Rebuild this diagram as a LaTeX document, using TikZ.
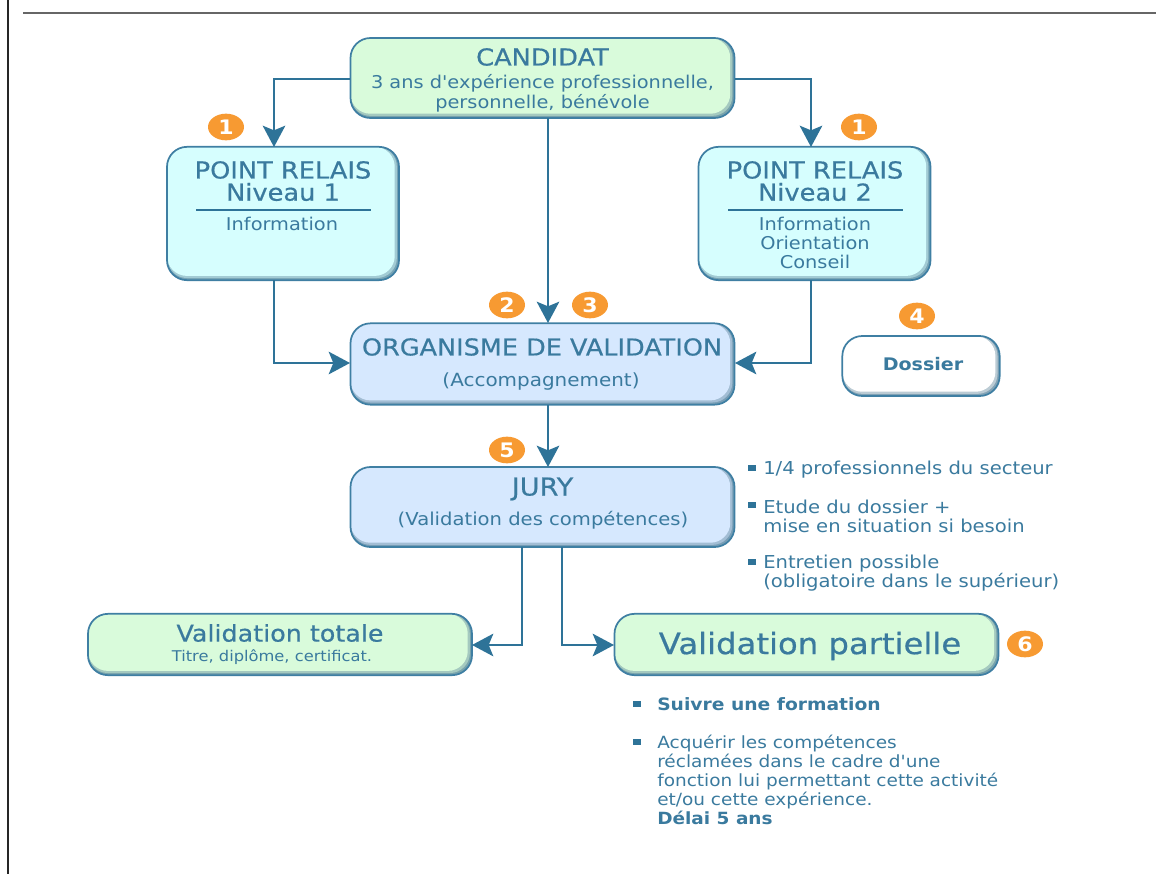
\documentclass[tikz,border=0pt]{standalone}
\usepackage{fontspec}
\setmainfont[FakeStretch=1.1]{DejaVu Sans}
\newfontfamily\bodyf[FakeStretch=1.1]{DejaVu Sans}
\newfontfamily\titlef[FakeStretch=1.1,FakeBold=0.5]{DejaVu Sans}
\usetikzlibrary{arrows.meta,calc,shapes.geometric}
\definecolor{edgec}{HTML}{3F7FA3}
\definecolor{linec}{HTML}{2E7398}
\definecolor{textc}{HTML}{3A7A9E}
\definecolor{greenc}{HTML}{D9FBDB}
\definecolor{cyanc}{HTML}{D6FEFE}
\definecolor{bluec}{HTML}{D6E8FE}
\definecolor{orangec}{HTML}{F79A32}
\newcommand{\fs}[1]{\fontsize{#1}{15}\selectfont}
\newcommand{\fsl}[1]{\fontsize{#1}{14.25}\selectfont}
\tikzset{
  box/.style={draw=edgec,line width=1.3pt,rounded corners=15pt,inner sep=0pt,fill=#1!35!edgec!80!gray,
    path picture={
      \fill[#1!70!edgec!85!gray] (path picture bounding box.south west)++(0,1.6pt) rectangle ($(path picture bounding box.north east)+(-1.6pt,0)$);
      \fill[#1] (path picture bounding box.south west)++(0,3.2pt) rectangle ($(path picture bounding box.north east)+(-3.2pt,0)$);
    }},
  lab/.style={text=textc,align=center,inner sep=0pt},
  ttl/.style={text=textc,align=center,inner sep=0pt,font=\titlef\fs{#1}},
  ll/.style={text=textc,align=left,anchor=west,inner sep=0pt},
  badge/.style={ellipse,fill=orangec,minimum width=27pt,minimum height=20pt,inner sep=0pt,text=white,font=\bfseries\fs{15}},
  arrow/.style={draw=linec,line width=1.3pt,-{Stealth[length=16pt,width=17pt,inset=3.5pt]}},
  bul/.style={fill=linec,minimum width=5.5pt,minimum height=4.5pt,inner sep=0pt},
  rulel/.style={draw=linec,line width=.9pt}
}
\begin{document}
\begin{tikzpicture}[x=.75pt,y=-.75pt]
\useasboundingbox (0,0) rectangle (1156,874);
\coordinate (ta) at (23,13); \coordinate (tb) at (1156,13);
\coordinate (la) at (8,0); \coordinate (lb) at (8,874);
\draw[line width=.9pt,draw=black!60] (ta) -- (tb);
\draw[line width=.9pt,draw=black!85] (la) -- (lb);
% boxes
\node[box=greenc,minimum width=288pt,minimum height=60pt] (cand) at (542.5,78) {};
\node[box=cyanc,minimum width=174pt,minimum height=100pt] (pr1) at (283,213.5) {};
\node[box=cyanc,minimum width=174pt,minimum height=100pt] (pr2) at (814.5,213.5) {};
\node[box=bluec,minimum width=288pt,minimum height=61pt] (org) at (542.5,364) {};
\node[box=white,minimum width=118pt,minimum height=45pt] (dos) at (921,366) {};
\node[box=bluec,minimum width=288pt,minimum height=60pt] (jury) at (542.5,507) {};
\node[box=greenc,minimum width=288pt,minimum height=46pt] (vt) at (280,644.5) {};
\node[box=greenc,minimum width=288pt,minimum height=46pt] (vp) at (806.5,644.5) {};
% connector helpers
\coordinate (c1) at (350,79);
\coordinate (c2) at (735,79);
\coordinate (p1) at (274,147);
\coordinate (p2) at (811,147);
\coordinate (p1b) at (274,280);
\coordinate (p2b) at (811,280);
\coordinate (cs) at (548,118);
\coordinate (on) at (548,323);
\coordinate (os) at (548,405);
\coordinate (jn) at (548,467);
\coordinate (ow) at (350,363);
\coordinate (oe) at (735,363);
\coordinate (j1) at (522,547);
\coordinate (j2) at (562,547);
\coordinate (vte) at (472,645);
\coordinate (vpw) at (614,645);
\draw[arrow] (c1) -| (p1);
\draw[arrow] (c2) -| (p2);
\draw[arrow] (cs) -- (on);
\draw[arrow] (p1b) |- (ow);
\draw[arrow] (p2b) |- (oe);
\draw[arrow] (os) -- (jn);
\draw[arrow] (j1) |- (vte);
\draw[arrow] (j2) |- (vpw);
% box texts
\node[ttl=17.5] (t1) at (542.5,57) {CANDIDAT};
\node[lab,font=\bodyf\fs{13.2}] (t2) at (542.5,93) {3 ans d'expérience professionnelle,\\personnelle, bénévole};
\node[ttl=17.5] (t3) at (283,170) {POINT RELAIS};
\node[ttl=17.5] (t4) at (283,192) {Niveau 1};
\node[lab,font=\fs{13.2}] (t5) at (282,224) {Information};
\node[ttl=17.5] (t6) at (815,170) {POINT RELAIS};
\node[ttl=17.5] (t7) at (815,192) {Niveau 2};
\node[lab,font=\fsl{13.2}] (t8) at (815,243) {Information\\Orientation\\Conseil};
\coordinate (r1a) at (196,210); \coordinate (r1b) at (371,210);
\coordinate (r2a) at (728,210); \coordinate (r2b) at (903,210);
\draw[rulel] (r1a) -- (r1b);
\draw[rulel] (r2a) -- (r2b);
\node[ttl=17.4] (t9) at (542,347) {ORGANISME DE VALIDATION};
\node[lab,font=\fs{13.6}] (t10) at (541,382) {(Accompagnement)};
\node[lab,font=\bfseries\fs{13}] (t11) at (923,364) {Dossier};
\node[ttl=18.5] (t12) at (542.5,489) {JURY};
\node[lab,font=\fs{13.35}] (t13) at (543,520) {(Validation des compétences)};
\node[ttl=17.3] (t14) at (280,633) {Validation totale};
\node[lab,font=\fs{11.1}] (t15) at (272,657) {Titre, diplôme, certificat.};
\node[ttl=22] (t16) at (810,646) {Validation partielle};
% badges
\node[badge] (b1) at (226,127) {1};
\node[badge] (b1b) at (859,127) {1};
\node[badge] (b2) at (507,305) {2};
\node[badge] (b3) at (590,305) {3};
\node[badge] (b4) at (917,316) {4};
\node[badge] (b5) at (507,450) {5};
\node[badge] (b6) at (1025,644) {6};
% side lists
\node[bul] (s1) at (752,468) {};
\node[ll,font=\fsl{13.35}] (l1) at (763,470) {1/4 professionnels du secteur};
\node[bul] (s2) at (752,505) {};
\node[ll,font=\fsl{13.35}] (l2) at (763,516) {Etude du dossier +\\mise en situation si besoin};
\node[bul] (s3) at (752,562) {};
\node[ll,font=\fsl{13.35}] (l3) at (763,573) {Entretien possible\\(obligatoire dans le supérieur)};
\node[bul] (s4) at (637,704) {};
\node[ll,font=\bfseries\fs{12.75}] (l4) at (657,704) {Suivre une formation};
\node[bul] (s5) at (637,742) {};
\node[ll,font=\bodyf\fsl{12.6}] (l5) at (657,772) {Acquérir les compétences\\réclamées dans le cadre d'une\\fonction lui permettant cette activité\\et/ou cette expérience.};
\node[ll,font=\bfseries\fs{12.6}] (l6) at (657,818) {Délai 5 ans};
\end{tikzpicture}
\end{document}
